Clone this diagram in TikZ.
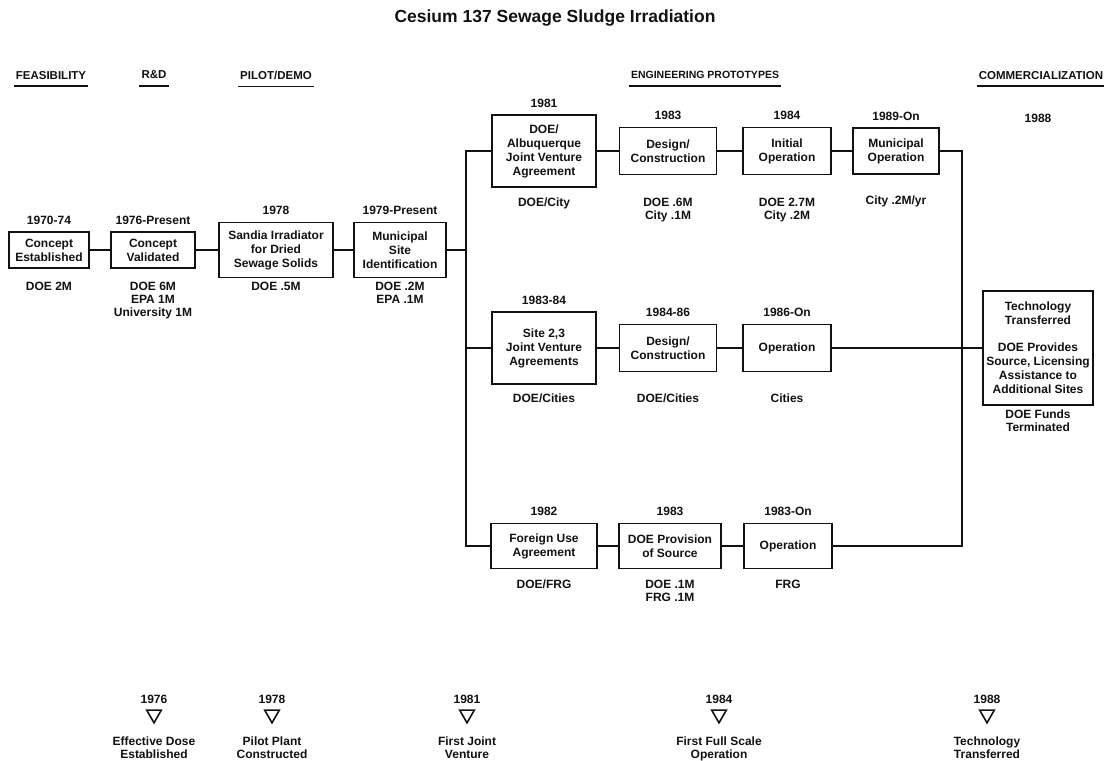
\documentclass[tikz,border=0pt]{standalone}
\usepackage{fontspec}
\setmainfont{Liberation Sans}
\usetikzlibrary{positioning,shapes.geometric}
\definecolor{ink}{HTML}{111111}
\newcommand{\boxfont}{\bfseries\fontsize{12}{14}\selectfont}
\newcommand{\fundfont}{\bfseries\fontsize{12}{13}\selectfont}
\newcommand{\hdrfont}{\bfseries\fontsize{11.5}{13}\selectfont}
\newcommand{\titlefont}{\bfseries\fontsize{17.5}{20}\selectfont}
\tikzset{box/.style={draw=ink,line width=1.4pt,align=center,inner sep=1pt,font=\boxfont,text=ink},
  sz/.style 2 args={minimum width=#1pt,minimum height=#2pt},
  yr/.style={font=\boxfont,inner sep=0pt,text=ink},
  fund/.style={font=\fundfont,align=center,anchor=north,inner sep=0pt,text=ink},
  hdr/.style={font=\hdrfont,inner sep=0pt,text depth=0pt,text=ink},
  ul/.style={draw=ink,line width=1.5pt},
  wire/.style={draw=ink,line width=1.8pt},
  tri/.style={draw=ink,line width=1.6pt,regular polygon,regular polygon sides=3,
    regular polygon rotate=180,minimum size=17pt,inner sep=0pt},
  ms/.style={font=\fundfont,align=center,inner sep=0pt,text=ink}}

\begin{document}
\begin{tikzpicture}[x=1pt,y=-1pt]
  \useasboundingbox (0,0) rectangle (1104,761);
  \node[font=\titlefont,text=ink] (title) at (555,18) {Cesium 137 Sewage Sludge Irradiation};
  % phase headers
  \node[hdr] (hFeas) at (51,75) {FEASIBILITY};
  \node[hdr] (hRD) at (154,75) {R\&D};
  \node[hdr] (hPilot) at (276,75) {PILOT/DEMO};
  \node[hdr,font=\bfseries\fontsize{10.5}{13}\selectfont] (hEng) at (705,75) {ENGINEERING PROTOTYPES};
  \node[hdr] (hComm) at (1041,75) {COMMERCIALIZATION};
  \foreach \h in {hFeas,hRD,hPilot,hEng,hComm}
    \draw[ul] ([xshift=-2pt,yshift=-7pt]\h.south west) -- ([xshift=2pt,yshift=-7pt]\h.south east);

  % early stages
  \node[box,sz={80}{36}] (est) at (49,250) {Concept\\Established};
  \node[box,sz={84}{36}] (val) at (153,250) {Concept\\Validated};
  \node[box,sz={114}{55}] (sandia) at (276,250) {Sandia Irradiator\\for Dried\\Sewage Solids};
  \node[box,sz={92}{55}] (site) at (400,250) {Municipal\\Site\\Identification};
  \node[yr,above=6.5pt of est] (estY) {1970-74};
  \node[yr,above=6.5pt of val] (valY) {1976-Present};
  \node[yr,above=6.5pt of sandia] (sandiaY) {1978};
  \node[yr,above=6.5pt of site] (siteY) {1979-Present};
  \node[fund] (estF) at (49,282) {DOE 2M};
  \node[fund] (valF) at (153,282) {DOE 6M\\EPA 1M\\University 1M};
  \node[fund] (sandiaF) at (276,282) {DOE .5M};
  \node[fund] (siteF) at (400,282) {DOE .2M\\EPA .1M};

  % engineering prototypes
  \node[box,sz={104}{72}] (alb) at (544,151) {DOE/\\Albuquerque\\Joint Venture\\Agreement};
  \node[box,sz={97}{47}] (des1) at (668,151) {Design/\\Construction};
  \node[box,sz={88}{47}] (ini) at (787,151) {Initial\\Operation};
  \node[box,sz={86}{46}] (mun) at (896,151) {Municipal\\Operation};
  \node[box,sz={104}{72}] (jv) at (544,348) {Site 2,3\\Joint Venture\\Agreements};
  \node[box,sz={97}{47}] (des2) at (668,348) {Design/\\Construction};
  \node[box,sz={88}{47}] (op2) at (787,348) {Operation};
  \node[box,sz={106}{45}] (frn) at (544,546) {Foreign Use\\Agreement};
  \node[box,sz={102}{45}] (prov) at (670,546) {DOE Provision\\of Source};
  \node[box,sz={88}{45}] (op3) at (788,546) {Operation};
  \node[yr,above=6.5pt of alb] (albY) {1981};
  \node[yr,above=6.5pt of des1] (des1Y) {1983};
  \node[yr,above=6.5pt of ini] (iniY) {1984};
  \node[yr,above=6.5pt of mun] (munY) {1989-On};
  \node[yr,above=6.5pt of jv] (jvY) {1983-84};
  \node[yr,above=6.5pt of des2] (des2Y) {1984-86};
  \node[yr,above=6.5pt of op2] (op2Y) {1986-On};
  \node[yr,above=6.5pt of frn] (frnY) {1982};
  \node[yr,above=6.5pt of prov] (provY) {1983};
  \node[yr,above=6.5pt of op3] (op3Y) {1983-On};
  \node[fund] (albF) at (544,197.5) {DOE/City};
  \node[fund] (des1F) at (668,197.5) {DOE .6M\\City .1M};
  \node[fund] (iniF) at (787,197.5) {DOE 2.7M\\City .2M};
  \node[fund] (munF) at (896,196) {City .2M/yr};
  \node[fund] (jvF) at (544,393.5) {DOE/Cities};
  \node[fund] (des2F) at (668,393.5) {DOE/Cities};
  \node[fund] (op2F) at (787,393.5) {Cities};
  \node[fund] (frnF) at (544,579.5) {DOE/FRG};
  \node[fund] (provF) at (670,579.5) {DOE .1M\\FRG .1M};
  \node[fund] (op3F) at (788,579.5) {FRG};

  % commercialization
  \node[box,sz={110}{114}] (tech) at (1038,348)
    {Technology\\Transferred\\[13pt]DOE Provides\\Source, Licensing\\Assistance to\\Additional Sites};
  \node[yr] (techY) at (1038,118) {1988};
  \node[fund] (techF) at (1038,410) {DOE Funds\\Terminated};

  % connectors
  \coordinate (lt) at (466,151);
  \coordinate (lb) at (466,546);
  \coordinate (rt) at (962,151);
  \coordinate (rb) at (962,546);
  \draw[wire] (est) -- (val);
  \draw[wire] (val) -- (sandia);
  \draw[wire] (sandia) -- (site);
  \draw[wire] (site.east) -- (site.east -| lt);
  \draw[wire] (alb.west) -- (lt) -- (lb) -- (frn.west);
  \draw[wire] (jv.west) -- (jv.west -| lt);
  \draw[wire] (alb) -- (des1);
  \draw[wire] (des1) -- (ini);
  \draw[wire] (ini) -- (mun);
  \draw[wire] (jv) -- (des2);
  \draw[wire] (des2) -- (op2);
  \draw[wire] (frn) -- (prov);
  \draw[wire] (prov) -- (op3);
  \draw[wire] (mun.east) -- (rt) -- (rb) -- (op3.east);
  \draw[wire] (op2.east) -- (tech.west);

  % milestones
  \foreach \x/\yy/\lbl/\nm in {154/1976/{Effective Dose\\Established}/mDose,
      272/1978/{Pilot Plant\\Constructed}/mPilot,
      467/1981/{First Joint\\Venture}/mJoint,
      719/1984/{First Full Scale\\Operation}/mFull,
      987/1988/{Technology\\Transferred}/mTech}{
    \node[tri] (\nm) at (\x,714.3) {};
    \node[yr,above=5.7pt of \nm] (\nm Y) {\yy};
    \node[ms,below=12.5pt of \nm] (\nm T) {\lbl};
  }
\end{tikzpicture}
\end{document}
